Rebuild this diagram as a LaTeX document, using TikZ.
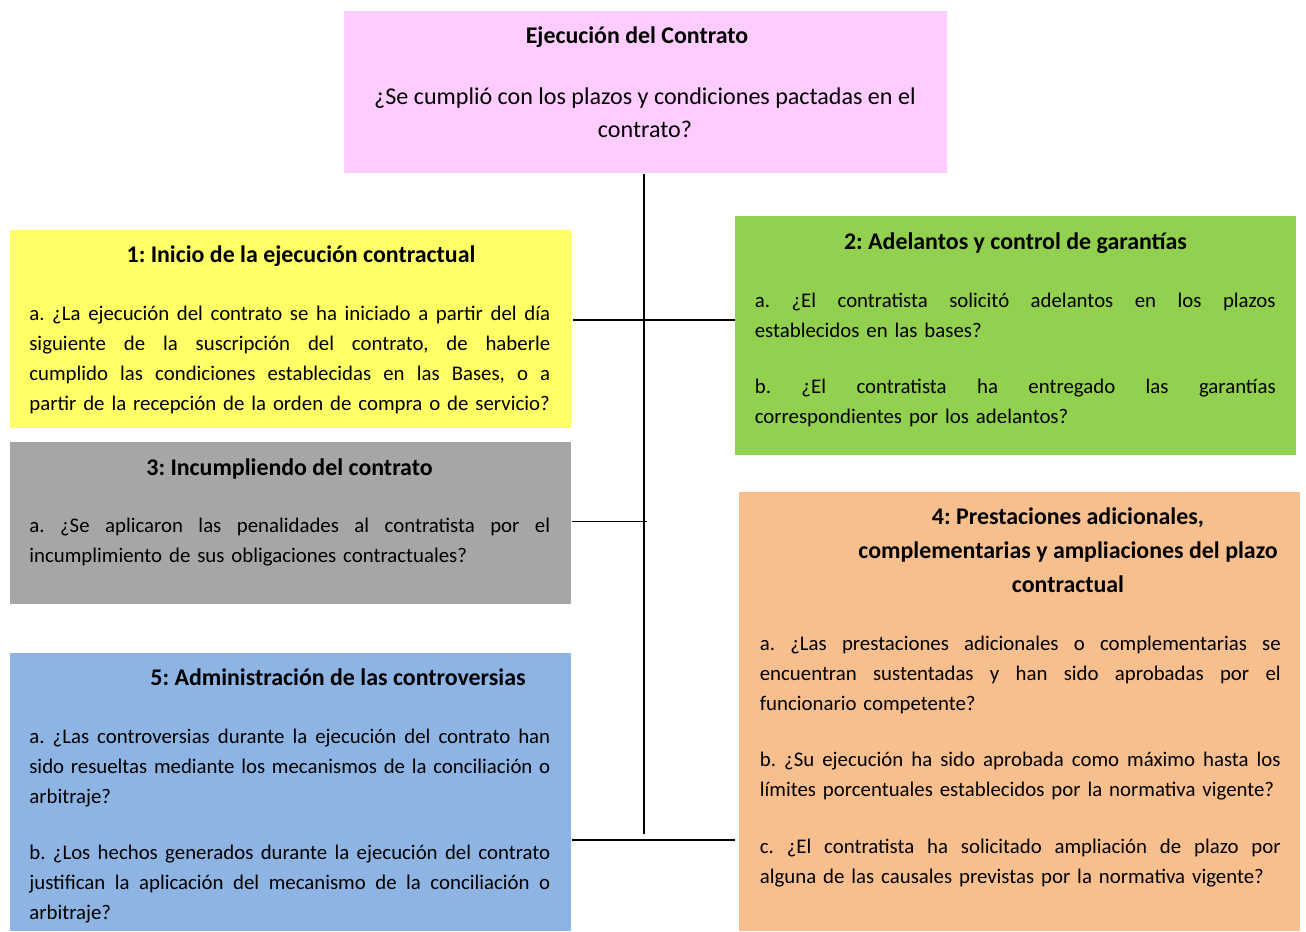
\documentclass[tikz,border=0pt]{standalone}
\usepackage{fontspec}
\setmainfont{Carlito}
\frenchspacing
\definecolor{cpink}{HTML}{FFCCFF}
\definecolor{cyellow}{HTML}{FFFF66}
\definecolor{cgreen}{HTML}{92D050}
\definecolor{cgray}{HTML}{A6A6A6}
\definecolor{corange}{HTML}{F8BF8E}
\definecolor{cblue}{HTML}{8EB4E3}
\newdimen\jlw
\jlw=10.42cm
\ExplSyntaxOn
\tl_new:N \l_jl_line_tl
\NewDocumentCommand{\jl}{m}{
  \tl_set:Nn \l_jl_line_tl {#1}
  \tl_replace_all:Nnn \l_jl_line_tl {~} {\hfill}
  \leavevmode\hbox_to_wd:nn {\jlw} {\l_jl_line_tl}
}
\ExplSyntaxOff
\newcommand{\bodyfont}{\fontsize{11.85pt}{17.07pt}\selectfont\frenchspacing\spaceskip=0.2em plus 2em minus 0.03em\relax}
\begin{document}
\begin{tikzpicture}[x=0.02cm,y=-0.02cm,
  box/.style={rectangle,draw=none,inner sep=0pt,anchor=north west,minimum width=11.22cm},
  body/.style={inner sep=0pt,anchor=north west,align=left,font=\bodyfont},
  bodyL/.style={body,text width=10.42cm},
  bodyR/.style={body,text width=10.42cm},
  head/.style={inner sep=0pt,anchor=base,font=\fontsize{13.6pt}{19.35pt}\selectfont\bfseries},
  conn/.style={draw=black,line width=1.1pt}]
\useasboundingbox (0,0) rectangle (1306,931);
% boxes
\node[box,fill=cpink,minimum width=12.06cm,minimum height=3.24cm] (pink) at (344,11) {};
\node[box,fill=cyellow,minimum height=3.96cm] (yellow) at (10,230) {};
\node[box,fill=cgreen,minimum height=4.78cm] (green) at (735,216) {};
\node[box,fill=cgray,minimum height=3.24cm] (gray) at (10,442) {};
\node[box,fill=corange,minimum height=8.78cm] (orange) at (739,492) {};
\node[box,fill=cblue,minimum height=5.56cm] (blue) at (10,653) {};
% connectors
\coordinate (vb) at (644,834);
\coordinate (l1a) at (573,320);
\coordinate (l2b) at (647,521.5);
\coordinate (l3b) at (735,840);
\draw[conn] (pink.south -| vb) -- (vb);
\draw[conn] (l1a) -- (green.west |- l1a);
\draw[conn] (gray.east |- l2b) -- (l2b);
\draw[conn] (blue.east |- l3b) -- (l3b);
% pink texts
\node[head] (ptitle) at (637,43) {Ejecución del Contrato};
\node[inner sep=0pt,anchor=north,align=center,font=\fontsize{13.7pt}{18.78pt}\selectfont\frenchspacing] (pbody) at (645,81) {\strut ¿Se cumplió con los plazos y condiciones pactadas en el\\contrato?};
% yellow
\node[head] (yhead) at (301,262) {1: Inicio de la ejecución contractual};
\node[bodyL] (ya) at (29,299.5) {\strut\jl{a. ¿La ejecución del contrato se ha iniciado a partir del día}\\\jl{siguiente de la suscripción del contrato, de haberle}\\\jl{cumplido las condiciones establecidas en las Bases, o a}\\partir de la recepción de la orden de compra o de servicio?};
% green
\node[head] (ghead) at (1015.5,249) {2: Adelantos y control de garantías};
\node[bodyR] (ga) at (754.5,286.5) {\strut\jl{a. ¿El contratista solicitó adelantos en los plazos}\\establecidos en las bases?};
\node[bodyR] (gb) at (754.5,372.5) {\strut\jl{b. ¿El contratista ha entregado las garantías}\\correspondientes por los adelantos?};
% gray
\node[head] (grhead) at (289.5,475) {3: Incumpliendo del contrato};
\node[bodyL] (gra) at (29,511.5) {\strut\jl{a. ¿Se aplicaron las penalidades al contratista por el}\\incumplimiento de sus obligaciones contractuales?};
% orange
\node[inner sep=0pt,anchor=north,align=center,font=\fontsize{13.6pt}{19.35pt}\selectfont\bfseries] (ohead) at (1068,500.2) {\strut 4: Prestaciones adicionales,\\complementarias y ampliaciones del plazo\\contractual};
\node[bodyR] (oa) at (759.5,629.5) {\strut\jl{a. ¿Las prestaciones adicionales o complementarias se}\\\jl{encuentran sustentadas y han sido aprobadas por el}\\funcionario competente?};
\node[bodyR] (ob) at (759.5,745.5) {\strut\jl{b. ¿Su ejecución ha sido aprobada como máximo hasta los}\\límites porcentuales establecidos por la normativa vigente?};
\node[bodyR] (oc) at (759.5,832.5) {\strut\jl{c. ¿El contratista ha solicitado ampliación de plazo por}\\alguna de las causales previstas por la normativa vigente?};
% blue
\node[head] (bhead) at (338,685) {5: Administración de las controversias};
\node[bodyL] (ba) at (29,722.5) {\strut\jl{a. ¿Las controversias durante la ejecución del contrato han}\\\jl{sido resueltas mediante los mecanismos de la conciliación o}\\arbitraje?};
\node[bodyL] (bb) at (29,838.5) {\strut\jl{b. ¿Los hechos generados durante la ejecución del contrato}\\\jl{justifican la aplicación del mecanismo de la conciliación o}\\arbitraje?};
\end{tikzpicture}
\end{document}
